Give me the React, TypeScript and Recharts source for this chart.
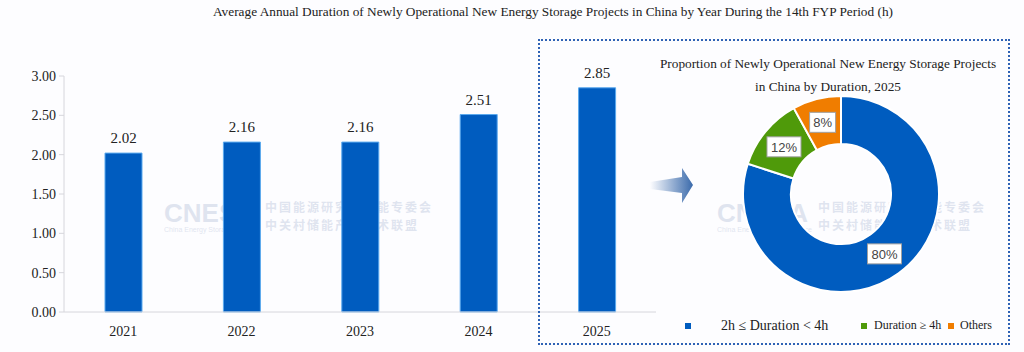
import React from "react";
import { Bar, BarChart, Cell, LabelList, Pie, PieChart, XAxis, YAxis } from "recharts";

const YEARS = ["2021", "2022", "2023", "2024", "2025"];
const DURATION = [2.02, 2.16, 2.16, 2.51, 2.85];
const Y_TICKS = [0, 0.5, 1, 1.5, 2, 2.5, 3];

const SHARE_NAMES = ["2h ≤ Duration < 4h", "Duration ≥ 4h", "Others"];
const SHARE_VALUES = [80, 12, 8];
const SHARE_COLORS = ["#005cbf", "#4f9a0a", "#f07d00"];

const BLUE = "#005cbf";
const AXIS = "#d6d6dc";
const SERIF = "'Liberation Serif', 'Times New Roman', serif";
const SANS = "'Liberation Sans', Arial, sans-serif";

const barData = YEARS.map((y, i) => ({ year: y, value: DURATION[i] }));
const pieData = SHARE_NAMES.map((n, i) => ({ name: n, value: SHARE_VALUES[i] }));

const RAD = Math.PI / 180;

function SliceLabel(props: any) {
  const { cx, cy, midAngle, innerRadius, outerRadius, value } = props;
  const r = (innerRadius + outerRadius) / 2;
  const x = cx + r * Math.cos(-midAngle * RAD);
  const y = cy + r * Math.sin(-midAngle * RAD);
  const txt = `${value}%`;
  const w = txt.length * 8 + 10;
  return (
    <g>
      <rect x={x - w / 2} y={y - 10} width={w} height={20} fill="#fff" stroke="#a0a0a0" strokeWidth={1} />
      <text x={x} y={y} dy={5} textAnchor="middle" fontFamily={SANS} fontSize={13} fill="#444">
        {txt}
      </text>
    </g>
  );
}

function BarValue(props: any) {
  const { x, y, width, value } = props;
  return (
    <text x={x + width / 2} y={y - 10} textAnchor="middle" fontFamily={SERIF} fontSize={15} fill="#222">
      {Number(value).toFixed(2)}
    </text>
  );
}

function Watermark({ left, top }: { left: number; top: number }) {
  return (
    <div style={{ position: "absolute", left, top, display: "flex", alignItems: "center", opacity: 0.15, color: "#3a5a9a", pointerEvents: "none", whiteSpace: "nowrap" }}>
      <div style={{ fontFamily: SANS, lineHeight: 1 }}>
        <div style={{ fontSize: 26, fontWeight: 700 }}>CNESA</div>
        <div style={{ fontSize: 7 }}>China Energy Storage Alliance</div>
      </div>
      <div style={{ fontFamily: "'Noto Sans CJK SC', sans-serif", fontSize: 12, fontWeight: 700, letterSpacing: 2, lineHeight: "18px", marginLeft: 6 }}>
        <div>中国能源研究会储能专委会</div>
        <div>中关村储能产业技术联盟</div>
      </div>
    </div>
  );
}

export default function App() {
  return (
    <div style={{ position: "absolute", left: 0, top: 0, width: 1024, height: 352, background: "#fdfdff", overflow: "hidden" }}>
      <div style={{ position: "absolute", left: 0, top: 4, width: 1106, textAlign: "center", fontFamily: SERIF, fontSize: 13.3, color: "#222" }}>
        Average Annual Duration of Newly Operational New Energy Storage Projects in China by Year During the 14th FYP Period (h)
      </div>

      <Watermark left={164} top={198} />
      <Watermark left={717} top={198} />

      <div style={{ position: "absolute", left: 0, top: 0 }}>
        <BarChart width={680} height={352} data={barData} margin={{ top: 76, right: 24, bottom: 0, left: 0 }} barSize={37}>
          <XAxis
            dataKey="year"
            height={40}
            stroke={AXIS}
            tickLine={false}
            tick={{ fill: "#222", fontFamily: SERIF, fontSize: 14 }}
            tickMargin={8}
          />
          <YAxis
            width={64}
            domain={[0, 3]}
            ticks={Y_TICKS}
            stroke={AXIS}
            tickSize={5}
            tickMargin={3}
            tick={{ fill: "#222", fontFamily: SERIF, fontSize: 14 }}
            tickFormatter={(v: number) => v.toFixed(2)}
          />
          <Bar dataKey="value" fill={BLUE} stroke="#5aa9ee" strokeWidth={1} isAnimationActive={false}>
            <LabelList dataKey="value" content={BarValue} />
          </Bar>
        </BarChart>
      </div>

      <svg width={60} height={50} style={{ position: "absolute", left: 640, top: 165 }}>
        <defs>
          <linearGradient id="arrowGrad" x1="0" x2="1" y1="0" y2="0">
            <stop offset="0" stopColor="#3a6aab" stopOpacity={0} />
            <stop offset="1" stopColor="#3a6aab" stopOpacity={1} />
          </linearGradient>
        </defs>
        <polygon points="10,17 42,12 42,3 53,20 42,38 42,28 10,24" fill="url(#arrowGrad)" />
      </svg>

      <div style={{ position: "absolute", left: 538, top: 39, width: 472, height: 306, border: "2px dotted #2f62b5", boxSizing: "border-box" }}>
        <div style={{ position: "absolute", left: 0, top: 11, width: 576, textAlign: "center", fontFamily: SERIF, fontSize: 13.3, lineHeight: "23px", color: "#222" }}>
          Proportion of Newly Operational New Energy Storage Projects
          <br />
          in China by Duration, 2025
        </div>
        <PieChart width={468} height={302} margin={{ top: 0, right: 0, bottom: 0, left: 0 }}>
          <Pie
            data={pieData}
            dataKey="value"
            cx={301}
            cy={153}
            innerRadius={50}
            outerRadius={98}
            startAngle={90}
            endAngle={-270}
            stroke="#fff"
            strokeWidth={2}
            label={SliceLabel}
            labelLine={false}
            isAnimationActive={false}
          >
            {pieData.map((d, i) => (
              <Cell key={d.name} fill={SHARE_COLORS[i]} />
            ))}
          </Pie>
        </PieChart>
        <div style={{ position: "absolute", left: 0, top: 277, width: 468, fontFamily: SERIF, fontSize: 13, color: "#222" }}>
          {pieData.map((d, i) => (
            <div key={d.name} style={{ position: "absolute", left: [145, 321, 408][i], top: 0, display: "flex", alignItems: "center", whiteSpace: "nowrap" }}>
              <span style={{ width: 6, height: 6, background: SHARE_COLORS[i], marginRight: [30, 7, 6][i] }} />
              <span style={{ fontSize: i === 0 ? 14 : 12 }}>{d.name}</span>
            </div>
          ))}
        </div>
      </div>
    </div>
  );
}
